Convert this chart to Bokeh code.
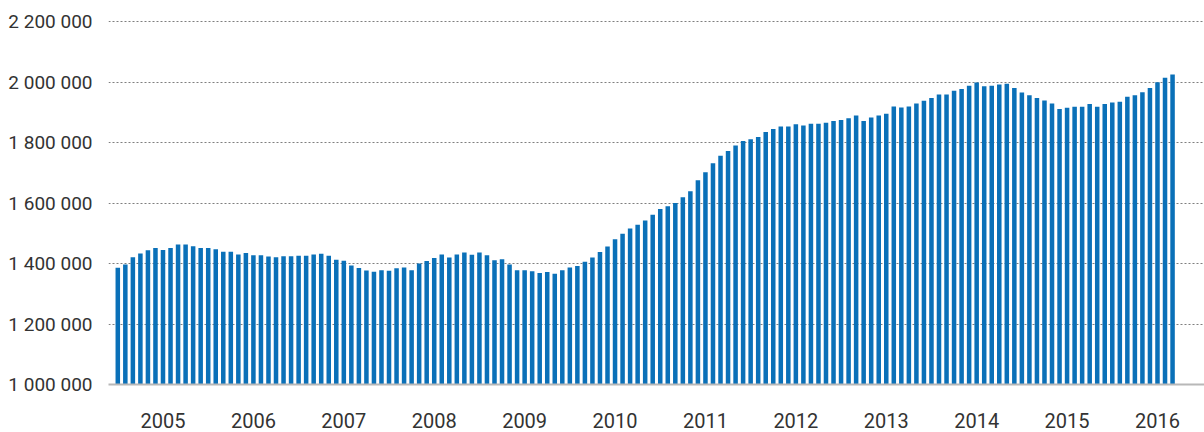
from bokeh.plotting import figure
from bokeh.models import ColumnDataSource, FixedTicker, Range1d
from bokeh.embed import file_html
from bokeh.resources import INLINE

# Monthly values, Jan 2005 .. Sep 2016
values = [
    1386000, 1397000, 1421000, 1433000, 1444000, 1451000, 1445000, 1451000, 1463000, 1463000, 1457000, 1451000,
    1451000, 1447000, 1439000, 1439000, 1430000, 1435000, 1427500, 1427500, 1423000, 1421000, 1424000, 1424000,
    1426000, 1426000, 1430000, 1432000, 1426000, 1412000, 1409000, 1393000, 1385000, 1377000, 1373000, 1378000,
    1376000, 1384000, 1387000, 1378000, 1400000, 1408000, 1418000, 1430000, 1420000, 1430000, 1436000, 1429000,
    1436000, 1427000, 1411000, 1414000, 1397000, 1378000, 1378000, 1374000, 1369000, 1372000, 1366000, 1378000,
    1387000, 1392000, 1406000, 1420000, 1438000, 1456000, 1480000, 1498000, 1516000, 1528000, 1542000, 1561000,
    1580000, 1589000, 1600000, 1619000, 1639000, 1675000, 1702000, 1731000, 1756000, 1772000, 1790000, 1805000,
    1811000, 1818000, 1835000, 1845000, 1853000, 1853000, 1860000, 1856000, 1862000, 1862000, 1865000, 1871000,
    1874000, 1880000, 1889000, 1871000, 1883000, 1889000, 1895000, 1919000, 1916000, 1919000, 1929000, 1938000,
    1947000, 1959000, 1959000, 1971000, 1977000, 1988000, 1998000, 1986000, 1988000, 1992000, 1994000, 1980000,
    1965000, 1956000, 1947000, 1939000, 1929000, 1911000, 1915000, 1918000, 1918000, 1927000, 1918000, 1927000,
    1932000, 1935000, 1951000, 1956000, 1966000, 1980000, 1999000, 2014000, 2025000,
]
years = ["2005", "2006", "2007", "2008", "2009", "2010", "2011", "2012", "2013", "2014", "2015", "2016"]
y_ticks = [1000000, 1200000, 1400000, 1600000, 1800000, 2000000, 2200000]
y_tick_labels = ["1 000 000", "1 200 000", "1 400 000", "1 600 000", "1 800 000", "2 000 000", "2 200 000"]

x = list(range(len(values)))
src = ColumnDataSource(data=dict(x=x, top=values))

p = figure(
    width=1204, height=432,
    output_backend="svg", toolbar_location=None, title=None,
    x_range=Range1d(-1.234, 144.24),
    y_range=Range1d(1000000, 2219835),
    min_border_left=108, min_border_right=0, min_border_top=15, min_border_bottom=48,
)
p.outline_line_color = None

p.vbar(x="x", top="top", bottom=1000000, width=0.6, source=src,
       fill_color="#0a70b8", line_color=None)

# y axis
p.yaxis.ticker = FixedTicker(ticks=y_ticks)
p.yaxis.major_label_overrides = {t: l for t, l in zip(y_ticks, y_tick_labels)}
p.yaxis.axis_line_color = None
p.yaxis.major_tick_line_color = None
p.yaxis.minor_tick_line_color = None
p.yaxis.major_tick_out = 0
p.yaxis.major_tick_in = 0
p.yaxis.major_label_standoff = 16
p.yaxis.major_label_text_font = "Roboto"
p.yaxis.major_label_text_font_size = "19px"
p.yaxis.major_label_text_color = "#333333"

# x axis
x_ticks = [6 + 12 * i for i in range(len(years))]
p.xaxis.ticker = FixedTicker(ticks=x_ticks)
p.xaxis.major_label_overrides = {t: y for t, y in zip(x_ticks, years)}
p.xaxis.axis_line_color = "#b8b8b8"
p.xaxis.axis_line_width = 2
p.xaxis.major_tick_line_color = None
p.xaxis.minor_tick_line_color = None
p.xaxis.major_tick_out = 0
p.xaxis.major_tick_in = 0
p.xaxis.major_label_standoff = 28
p.xaxis.major_label_text_font = "Roboto"
p.xaxis.major_label_text_font_size = "20px"
p.xaxis.major_label_text_color = "#333333"

# grid
p.xgrid.grid_line_color = None
p.ygrid.ticker = FixedTicker(ticks=y_ticks)
p.ygrid.grid_line_color = "#7f7f7f"
p.ygrid.grid_line_dash = "2 2"
p.ygrid.grid_line_width = 1

open("out.html", "w").write(file_html(p, INLINE))
